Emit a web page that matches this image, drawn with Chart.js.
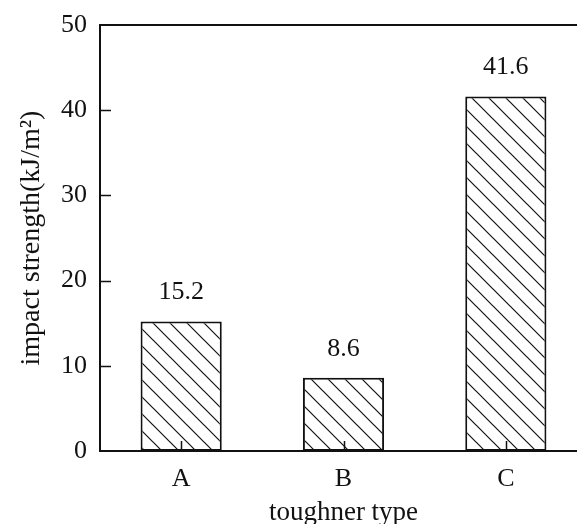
<!DOCTYPE html>
<html>
<head>
<meta charset="utf-8">
<script src="https://cdn.jsdelivr.net/npm/chart.js@4"></script>
<style>
  html, body { margin: 0; padding: 0; background: #fff; overflow: hidden; }
  #wrap { width: 590px; height: 524px; }
</style>
</head>
<body>
<div id="wrap"><canvas id="impactChart" width="590" height="524"></canvas></div>
<script>
const categories = ['A', 'B', 'C'];
const impactValues = [15.2, 8.6, 41.6];
const yTicks = [0, 10, 20, 30, 40, 50];

const FONT = "'Liberation Serif', 'Times New Roman', serif";

// diagonal "\" hatch used as bar fill
const makeHatch = () => {
    const s = 17;
    const c = document.createElement('canvas');
    c.width = s;
    c.height = s;
    const g = c.getContext('2d');
    g.fillStyle = '#fff';
    g.fillRect(0, 0, s, s);
    g.strokeStyle = '#111';
    g.lineWidth = 1.2;
    g.beginPath();
    g.moveTo(-2, -2); g.lineTo(s + 2, s + 2);
    g.moveTo(-2, s - 2); g.lineTo(2, s + 2);
    g.moveTo(s - 2, -2); g.lineTo(s + 2, 2);
    g.stroke();
    return g.createPattern(c, 'repeat');
};

// inward ticks, frame and value labels
const extrasPlugin = {
    id: 'extras',
    afterDatasetsDraw(chart) {
        const ctx = chart.ctx;
        const area = chart.chartArea;
        const xs = chart.scales.x;
        const ys = chart.scales.y;
        ctx.save();
        ctx.strokeStyle = '#111';
        ctx.lineWidth = 2;
        ctx.strokeRect(area.left, area.top, area.right - area.left, area.bottom - area.top);

        ctx.lineWidth = 1.5;
        ctx.beginPath();
        yTicks.forEach(v => {
            if (v === 0 || v === 50) return;
            const py = Math.round(ys.getPixelForValue(v)) + 0.5;
            ctx.moveTo(area.left, py);
            ctx.lineTo(area.left + 11, py);
        });
        categories.forEach((c, i) => {
            const px = Math.round(xs.getPixelForValue(i)) + 0.5;
            ctx.moveTo(px, area.bottom);
            ctx.lineTo(px, area.bottom - 10);
        });
        ctx.stroke();

        ctx.fillStyle = '#111';
        ctx.font = '26px ' + FONT;
        ctx.textAlign = 'center';
        ctx.textBaseline = 'middle';
        const meta = chart.getDatasetMeta(0);
        meta.data.forEach((bar, i) => {
            ctx.fillText(impactValues[i].toFixed(1), bar.x, bar.y - 29);
        });
        ctx.restore();
    }
};

const ctx = document.getElementById('impactChart');

new Chart(ctx, {
    type: 'bar',
    data: {
        labels: categories,
        datasets: [
            {
                data: impactValues,
                backgroundColor: makeHatch(),
                borderColor: '#111',
                borderWidth: 2,
                borderSkipped: false,
                barPercentage: 0.5,
                categoryPercentage: 1.0,
            }
        ],
    },
    options: {
        responsive: false,
        animation: false,
        layout: {
            padding: { top: 25, right: 3, left: 0, bottom: 0 }
        },
        plugins: {
            legend: { display: false },
            tooltip: { enabled: false }
        },
        scales: {
            x: {
                grid: { display: false, drawTicks: false },
                border: { display: false },
                ticks: {
                    color: '#111',
                    padding: 13,
                    font: { family: FONT, size: 26 }
                },
                title: {
                    display: true,
                    text: 'toughner type',
                    color: '#111',
                    font: { family: FONT, size: 27 },
                    padding: { top: 0, bottom: -5 }
                },
                afterFit: (scale) => { scale.height = 73; }
            },
            y: {
                min: 0,
                max: 50,
                grid: { display: false, drawTicks: false },
                border: { display: false },
                ticks: {
                    stepSize: 10,
                    color: '#111',
                    padding: 13,
                    font: { family: FONT, size: 26 },
                    callback: (value) => yTicks.includes(value) ? String(value) : ''
                },
                title: {
                    display: true,
                    text: 'impact strength(kJ/m²)',
                    color: '#111',
                    font: { family: FONT, size: 28 },
                    padding: { top: 15, bottom: 0 }
                },
                afterFit: (scale) => {
                    scale.width = 100;
                    scale.paddingTop = 0;
                    scale.paddingBottom = 0;
                }
            }
        }
    },
    plugins: [extrasPlugin]
});
</script>
</body>
</html>
